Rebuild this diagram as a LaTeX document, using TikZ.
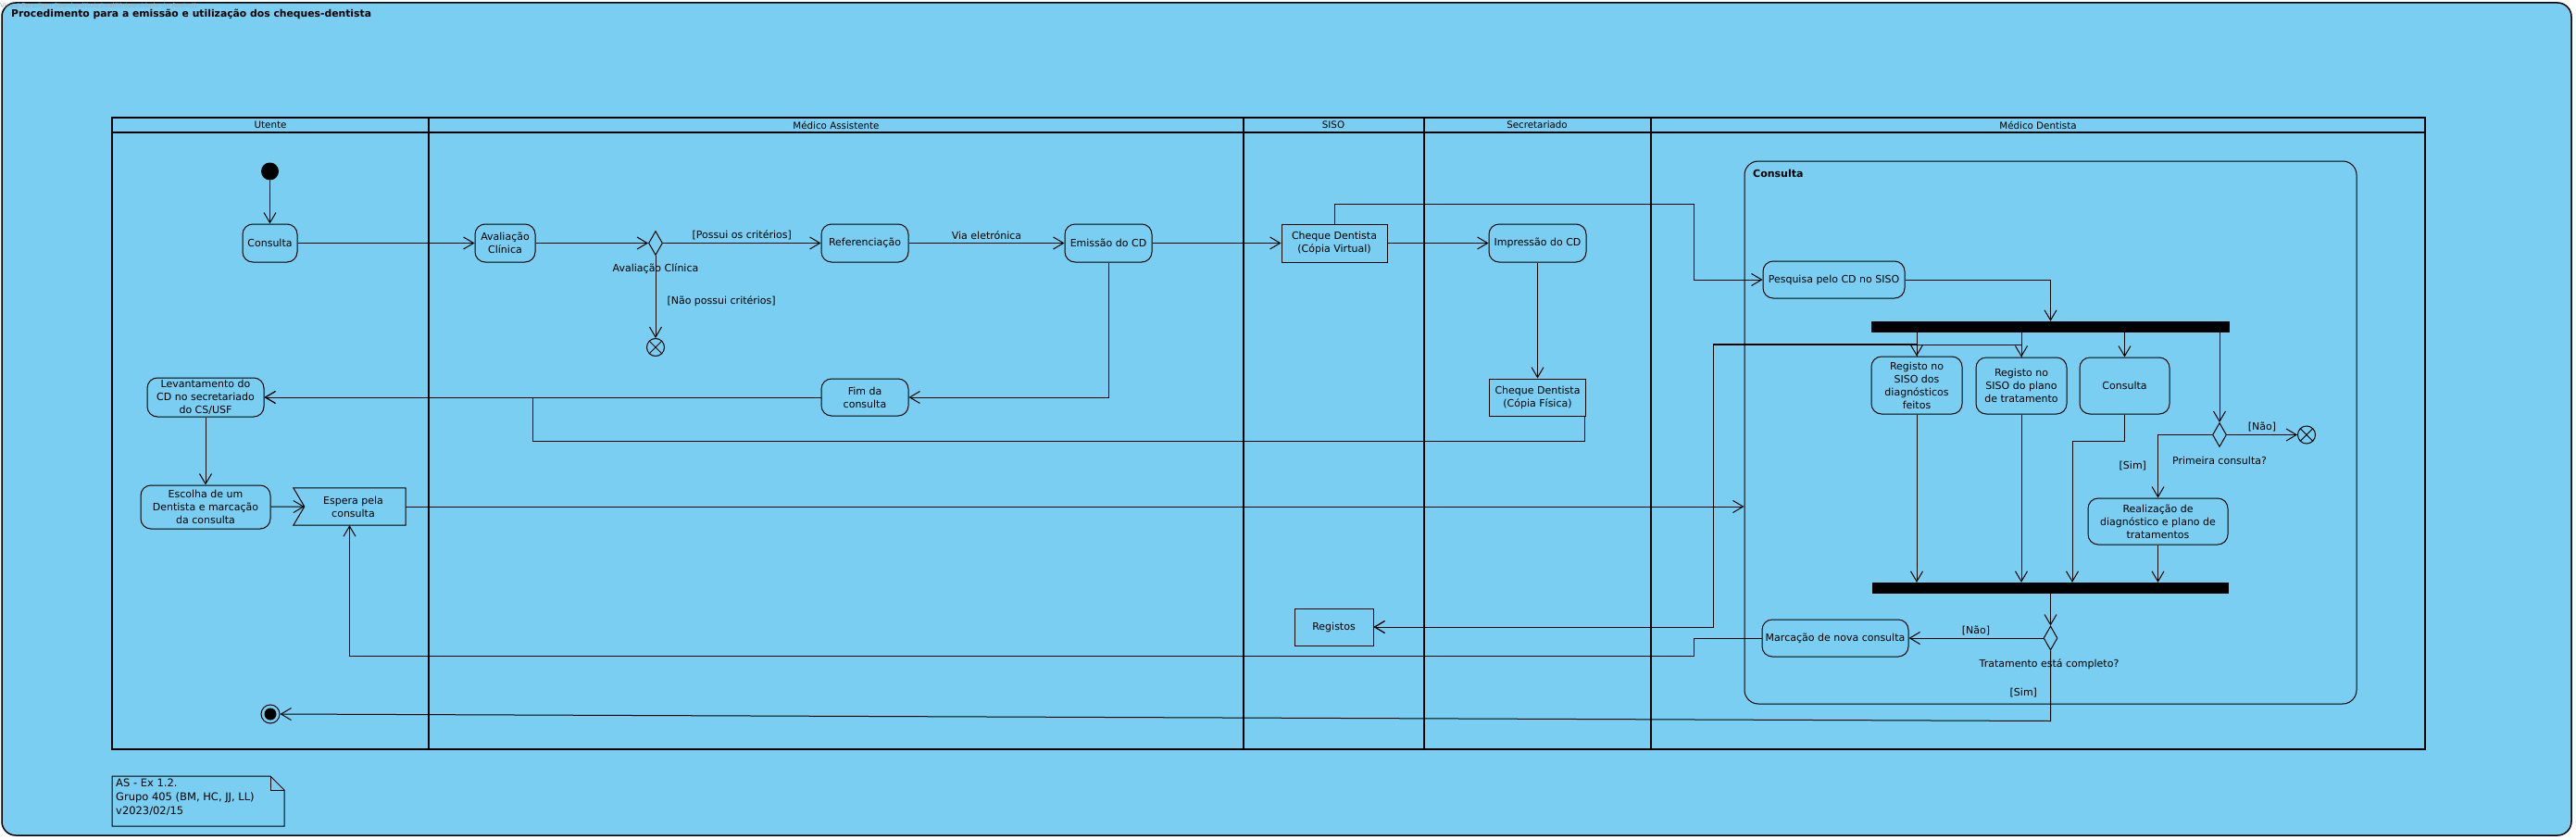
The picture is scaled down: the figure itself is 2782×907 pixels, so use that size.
\documentclass[tikz,border=0pt]{standalone}
\usepackage{fontspec}
\setmainfont{DejaVu Sans}
\usepackage{tikz}
\usetikzlibrary{arrows.meta,shapes.geometric}
\definecolor{vpblue}{RGB}{122,206,242}
\definecolor{vpmark}{RGB}{150,176,192}

\begin{document}
\begin{tikzpicture}[x=1pt,y=-1pt]
\tikzstyle{every node}+=[inner sep=0pt, font=\fontsize{11}{14}\selectfont]
\tikzstyle{act}=[draw, rounded corners=11pt, align=center, line width=1pt]
\tikzstyle{obj}=[draw, align=center, line width=1pt]
\tikzstyle{dec}=[draw, diamond, minimum width=15pt, minimum height=26pt, line width=1pt]
\tikzstyle{bar}=[fill=black, minimum height=12pt]
\tikzstyle{flowfin}=[draw, circle, minimum size=19pt, line width=1pt]
\tikzstyle{arr}=[-{Straight Barb[length=11pt,width=13pt]}, line width=1pt]
\tikzstyle{lane}=[line width=2.6pt]
\tikzstyle{hdr}=[font=\fontsize{10.3}{12}\selectfont]
\useasboundingbox (0,0) rectangle (2782,907);
\draw [fill=vpblue, line width=1.5pt, rounded corners=15pt] (2,3) rectangle (2777,902);
\node [anchor=west, text=vpmark, font=\fontsize{7}{8}\selectfont] (mark) at (0,7) {Visual Paradigm Standard(Luis Leal(Universidade de Aveiro))};
\node [anchor=west, font=\bfseries\fontsize{10.8}{12}\selectfont] (title) at (12,15) {Procedimento para a emissão e utilização dos cheques-dentista};
\draw [lane] (121,127) rectangle (2619,809);
\draw [lane] (121,143) -- (2619,143);
\foreach \x in {463,1343,1538,1783} \draw [lane] (\x,127) -- (\x,809);
\foreach \x/\t in {292/Utente,903/Médico Assistente,1440/SISO,1660/Secretariado,2201/Médico Dentista}
  \node [hdr] (hdr\x) at (\x,135) {\t};
\node [draw, rounded corners=15pt, minimum width=661pt, minimum height=586pt, line width=1pt] (reg) at (2214.5,467) {};
\node [anchor=west, font=\bfseries\fontsize{11}{12}\selectfont] (regname) at (1893,187) {Consulta};
\node [circle, fill=black, minimum size=19pt] (ini) at (291.5,185) {};
\node [act, minimum width=59pt, minimum height=41pt] (cons) at (291.5,262.5) {Consulta};
\node [act, minimum width=65pt, minimum height=41pt] (aval) at (545.5,262.5) {Avaliação\\Clínica};
\node [dec] (d1) at (708,262.5) {};
\node (d1name) at (708,290) {Avaliação Clínica};
\node [flowfin] (ff1) at (708,375) {};
\node [act, minimum width=94pt, minimum height=41pt] (ref) at (934,262.5) {Referenciação};
\node [act, minimum width=94pt, minimum height=41pt] (emis) at (1197,262.5) {Emissão do CD};
\node [act, minimum width=94pt, minimum height=40pt] (fim) at (934,429) {Fim da\\consulta};
\node [obj, minimum width=114pt, minimum height=41pt] (cdv) at (1441,262.5) {Cheque Dentista\\(Cópia Virtual)};
\node [act, minimum width=105pt, minimum height=41pt] (imp) at (1660.5,262.5) {Impressão do CD};
\node [obj, minimum width=104pt, minimum height=40pt] (cdf) at (1660.5,429) {Cheque Dentista\\(Cópia Física)};
\node [obj, minimum width=85pt, minimum height=40pt] (regs) at (1440.5,677) {Registos};
\node [act, minimum width=126pt, minimum height=42pt] (lev) at (222,429) {Levantamento do\\CD no secretariado\\do CS/USF};
\node [act, minimum width=140pt, minimum height=47pt] (esc) at (222,547.5) {Escolha de um\\Dentista e marcação\\da consulta};
\node [minimum width=121pt, minimum height=40pt, align=center] (esp) at (377.5,547) {\hspace{8pt}Espera pela\\\hspace{8pt}consulta};
\draw [line width=1pt] (esp.north west) -- (esp.north east) -- (esp.south east) -- (esp.south west) -- ([xshift=12pt]esp.west) -- cycle;
\node [circle, draw, minimum size=20pt, line width=1pt] (fin) at (292,771) {};
\fill (fin.center) circle (6.5pt);
\node [act, minimum width=153pt, minimum height=40pt] (pesq) at (1980.5,302) {Pesquisa pelo CD no SISO};
\node [bar, minimum width=387pt] (fork) at (2214.5,353) {};
\node [act, minimum width=98pt, minimum height=62pt] (reg1) at (2070,416) {Registo no\\SISO dos\\diagnósticos\\feitos};
\node [act, minimum width=98pt, minimum height=61pt] (reg2) at (2183,416.5) {Registo no\\SISO do plano\\de tratamento};
\node [act, minimum width=97pt, minimum height=61pt] (cons2) at (2294.5,416.5) {Consulta};
\node [dec] (d2) at (2397,469.5) {};
\node (d2name) at (2397,497) {Primeira consulta?};
\node [flowfin] (ff2) at (2491,469.5) {};
\node [act, minimum width=151pt, minimum height=50pt] (real) at (2330.5,563) {Realização de\\diagnóstico e plano de\\tratamentos};
\node [bar, minimum width=385pt] (join) at (2214.5,635) {};
\node [dec] (d3) at (2214.5,689) {};
\node (d3name) at (2213,717) {Tratamento está completo?};
\node [act, minimum width=158pt, minimum height=40pt] (marc) at (1982,689) {Marcação de nova consulta};
\foreach \n in {ff1,ff2} \draw [line width=1pt] (\n.north east) -- (\n.south west) (\n.north west) -- (\n.south east);
\draw [line width=1pt] (121,838) -- (292,838) -- (307,853) -- (307,892) -- (121,892) -- cycle;
\draw [line width=1pt] (292,838) -- (292,853) -- (307,853);
\node [anchor=north west, align=left, font=\fontsize{11.5}{15}\selectfont] (nota) at (125,841) {AS - Ex 1.2.\\Grupo 405 (BM, HC, JJ, LL)\\v2023/02/15};
\draw [arr] (ini) -- (cons);
\draw [arr] (cons) -- (aval);
\draw [arr] (aval) -- (d1);
\draw [arr] (d1) -- node [above=3pt] {[Possui os critérios]} (ref);
\draw [arr] (d1) -- node [pos=0.55, right=12pt] {[Não possui critérios]} (ff1);
\draw [arr] (ref) -- node [above=3pt] {Via eletrónica} (emis);
\draw [arr] (emis) -- (cdv);
\draw [arr] (emis.south) |- (fim.east);
\draw [arr] (fim) -- (lev);
\draw [arr] (cdv) -- (imp);
\draw [arr] (imp) -- (cdf);
\draw [arr] ([xshift=-2pt]cdf.south east) -- ++(0,27) -| (575,429) -- (lev.east);
\draw [arr] (lev) -- (esc);
\draw [arr] (esc) -- ([xshift=12pt]esp.west);
\draw [arr] (esp.east) -- (esp.east -| reg.west);
\draw [arr] (cdv.north) |- (1829,220) |- (pesq.west);
\draw [arr] (pesq.east) -| (fork.north);
\foreach \n in {reg1,reg2,cons2,d2} \draw [arr] (\n.north |- fork.south) -- (\n.north);
\draw [arr] (d2) -- node [above=3pt] {[Não]} (ff2);
\draw [arr] (d2.west) -| node [pos=0.75, left=12pt] {[Sim]} (real.north);
\foreach \n in {reg1,reg2,real} \draw [arr] (\n.south) -- (\n.south |- join.north);
\draw [arr] (cons2.south) -- ++(0,29) -| ([xshift=23.5pt]join.north);
\draw [arr] (join) -- (d3);
\draw [arr] (d3) -- node [above=3pt] {[Não]} (marc);
\draw [arr] (d3.south) -- node [pos=0.6, left=14pt] {[Sim]} ++(0,76) -- (fin.east);
\draw [arr] (marc.west) -| (1829,708) -| (esp.south);
\foreach \n in {reg1,reg2} \draw [arr] (\n.north) -- ++(0,-13) -| (1850,677) -- (regs.east);
\end{tikzpicture}
\end{document}
